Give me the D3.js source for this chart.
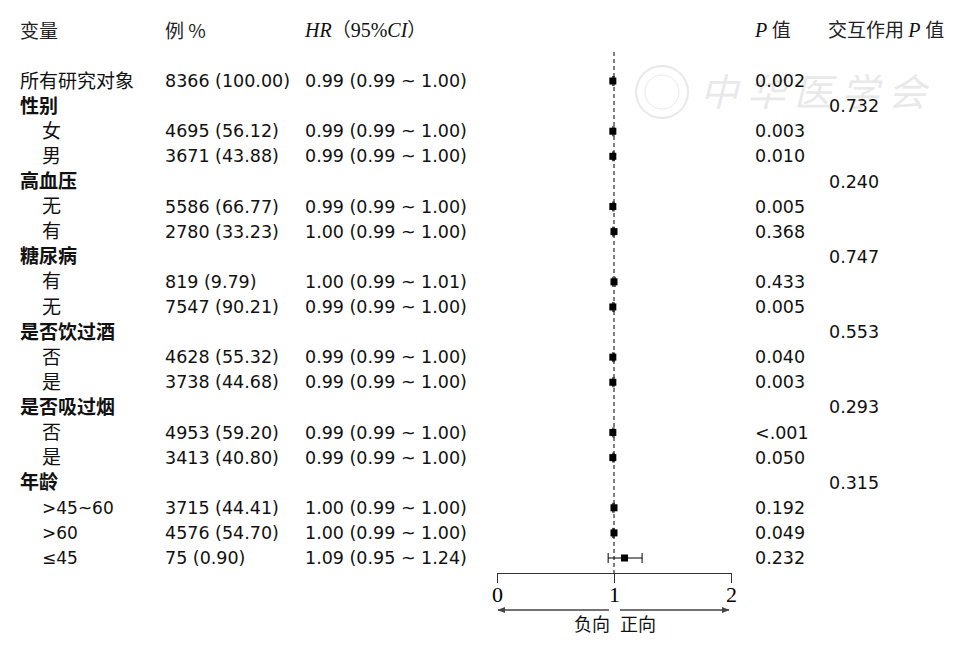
<!DOCTYPE html>
<html>
<head>
<meta charset="utf-8">
<script src="https://cdn.jsdelivr.net/npm/d3@7"></script>
<style>
  body { margin: 0; background: #fff; }
  text { fill: #111; }
  .cjk { font-family: "Noto Sans CJK SC", sans-serif; font-size: 19px; }
  .num { font-family: "DejaVu Sans", sans-serif; font-size: 17.5px; }
  .hdr { font-family: "Noto Sans CJK SC", sans-serif; font-size: 19px; fill: #222; }
  .it { font-family: "Liberation Serif", serif; font-style: italic; font-size: 20px; }
</style>
</head>
<body>
<div id="forest"></div>
<script>
// forest plot, subgroup analysis
var width = 967, height = 645;

// data
var labels = ["所有研究对象", "性别", "女", "男", "高血压", "无", "有", "糖尿病", "有", "无",
  "是否饮过酒", "否", "是", "是否吸过烟", "否", "是", "年龄", ">45~60", ">60", "≤45"];
// 0 = overall, 1 = group heading, 2 = subgroup
var levels = [0, 1, 2, 2, 1, 2, 2, 1, 2, 2, 1, 2, 2, 1, 2, 2, 1, 2, 2, 2];
var counts = ["8366 (100.00)", "", "4695 (56.12)", "3671 (43.88)", "", "5586 (66.77)", "2780 (33.23)", "",
  "819 (9.79)", "7547 (90.21)", "", "4628 (55.32)", "3738 (44.68)", "", "4953 (59.20)", "3413 (40.80)", "",
  "3715 (44.41)", "4576 (54.70)", "75 (0.90)"];
var hr    = [0.99, null, 0.99, 0.99, null, 0.99, 1.00, null, 1.00, 0.99, null, 0.99, 0.99, null, 0.99, 0.99, null, 1.00, 1.00, 1.09];
var hrLow = [0.99, null, 0.99, 0.99, null, 0.99, 0.99, null, 0.99, 0.99, null, 0.99, 0.99, null, 0.99, 0.99, null, 0.99, 0.99, 0.95];
var hrUp  = [1.00, null, 1.00, 1.00, null, 1.00, 1.00, null, 1.01, 1.00, null, 1.00, 1.00, null, 1.00, 1.00, null, 1.00, 1.00, 1.24];
var pValues = ["0.002", "", "0.003", "0.010", "", "0.005", "0.368", "", "0.433", "0.005", "", "0.040", "0.003", "",
  "<.001", "0.050", "", "0.192", "0.049", "0.232"];
var pInter = ["", "0.732", "", "", "0.240", "", "", "0.747", "", "", "0.553", "", "", "0.293", "", "", "0.315", "", "", ""];
var ticks = [0, 1, 2];

var rows = labels.map(function(d, i) {
  return { label: d, level: levels[i], n: counts[i], hr: hr[i], lo: hrLow[i], hi: hrUp[i], p: pValues[i], pi: pInter[i] };
});

var svg = d3.select("#forest").append("svg")
  .attr("width", width).attr("height", height);

var x = d3.scaleLinear().domain([0, 2]).range([497, 731]);
var y = d3.scaleLinear().domain([0, rows.length - 1]).range([81, 558]);
var axisY = 573;

function fmt(v) { return v.toFixed(2); }

// watermark (faint, behind everything)
var wm = svg.append("g").attr("opacity", 0.18);
wm.append("circle").attr("cx", 662).attr("cy", 92).attr("r", 26)
  .attr("fill", "none").attr("stroke", "#888").attr("stroke-width", 2);
wm.append("circle").attr("cx", 662).attr("cy", 92).attr("r", 17)
  .attr("fill", "none").attr("stroke", "#888").attr("stroke-width", 1);
wm.append("text").attr("x", 700).attr("y", 106)
  .style("font-family", "Noto Sans CJK SC").style("font-size", "38px").style("font-style", "italic")
  .style("letter-spacing", "9px").style("fill", "#888")
  .text("中华医学会");

// header
var hdrY = 31;
svg.append("text").attr("class", "hdr").attr("x", 20).attr("y", hdrY).attr("dy", "0.35em").text("变量");
svg.append("text").attr("class", "hdr").attr("x", 165).attr("y", hdrY).attr("dy", "0.35em").text("例 %");
var h = svg.append("text").attr("x", 305).attr("y", hdrY).attr("dy", "0.35em");
h.append("tspan").attr("class", "it").text("HR");
h.append("tspan").attr("class", "hdr").text("（");
h.append("tspan").attr("class", "it").style("font-style", "normal").text("95%");
h.append("tspan").attr("class", "it").text("CI");
h.append("tspan").attr("class", "hdr").text("）");
var p1 = svg.append("text").attr("x", 755).attr("y", hdrY).attr("dy", "0.35em");
p1.append("tspan").attr("class", "it").text("P ");
p1.append("tspan").attr("class", "hdr").text("值");
var p2 = svg.append("text").attr("x", 828).attr("y", hdrY).attr("dy", "0.35em");
p2.append("tspan").attr("class", "hdr").text("交互作用 ");
p2.append("tspan").attr("class", "it").text("P ");
p2.append("tspan").attr("class", "hdr").text("值");

// table rows
var row = svg.append("g").selectAll("g").data(rows).enter().append("g")
  .attr("transform", function(d, i) { return "translate(0," + y(i) + ")"; });

row.append("text")
  .attr("class", "cjk")
  .attr("x", function(d) { return d.level == 2 ? 42 : 20; })
  .attr("dy", "0.35em")
  .style("font-weight", function(d) { return d.level == 1 ? "bold" : "normal"; })
  .style("font-family", function(d) { return /^[<>≤]/.test(d.label) ? "DejaVu Sans" : null; })
  .style("font-size", function(d) { return /^[<>≤]/.test(d.label) ? "17px" : null; })
  .text(function(d) { return d.label; });

row.append("text").attr("class", "num").attr("x", 165).attr("dy", "0.35em")
  .text(function(d) { return d.n; });

row.append("text").attr("class", "num").attr("x", 305).attr("dy", "0.35em")
  .text(function(d) { return d.hr == null ? "" : fmt(d.hr) + " (" + fmt(d.lo) + " ~ " + fmt(d.hi) + ")"; });

row.append("text").attr("class", "num").attr("x", 755).attr("dy", "0.35em")
  .text(function(d) { return d.p; });

row.append("text").attr("class", "num").attr("x", 829).attr("dy", "0.35em")
  .text(function(d) { return d.pi; });

// reference line at HR = 1
svg.append("line")
  .attr("x1", x(1)).attr("x2", x(1)).attr("y1", 52).attr("y2", axisY)
  .attr("stroke", "#000").attr("stroke-width", 1).attr("stroke-dasharray", "4,3");

// CI and points
var est = row.filter(function(d) { return d.hr != null; });
est.append("line")
  .attr("x1", function(d) { return x(d.lo); }).attr("x2", function(d) { return x(d.hi); })
  .attr("stroke", "#000").attr("stroke-width", 1);
est.append("line")
  .attr("x1", function(d) { return x(d.lo); }).attr("x2", function(d) { return x(d.lo); })
  .attr("y1", -5).attr("y2", 5).attr("stroke", "#000").attr("stroke-width", 1);
est.append("line")
  .attr("x1", function(d) { return x(d.hi); }).attr("x2", function(d) { return x(d.hi); })
  .attr("y1", -5).attr("y2", 5).attr("stroke", "#000").attr("stroke-width", 1);
est.append("rect")
  .attr("x", function(d) { return x(d.hr) - 3.5; }).attr("y", -3.5)
  .attr("width", 7).attr("height", 7).attr("fill", "#000");

// x axis
var axis = svg.append("g").attr("transform", "translate(0," + axisY + ")")
  .call(d3.axisBottom(x).tickValues(ticks).tickSize(10).tickSizeOuter(0).tickFormat(d3.format("d")));
axis.select(".domain").attr("stroke", "#333");
axis.selectAll(".tick line").attr("stroke", "#333");
axis.selectAll(".tick text")
  .style("font-family", "Liberation Serif").style("font-size", "22px").style("fill", "#000");

// direction arrows
svg.append("defs").append("marker")
  .attr("id", "arr").attr("viewBox", "0 0 10 10").attr("refX", 9).attr("refY", 5)
  .attr("markerWidth", 6).attr("markerHeight", 6).attr("orient", "auto-start-reverse")
  .append("path").attr("d", "M0,1L10,5L0,9z").attr("fill", "#444");
svg.append("line").attr("x1", x(1) - 5).attr("x2", x(0) + 1).attr("y1", 610).attr("y2", 610)
  .attr("stroke", "#444").attr("stroke-width", 1.3).attr("marker-end", "url(#arr)");
svg.append("line").attr("x1", x(1) + 6).attr("x2", x(2) - 2).attr("y1", 610).attr("y2", 610)
  .attr("stroke", "#444").attr("stroke-width", 1.3).attr("marker-end", "url(#arr)");
svg.append("text").attr("class", "cjk").attr("x", x(1) - 4).attr("y", 625).attr("dy", "0.35em")
  .attr("text-anchor", "end").style("font-size", "18px").text("负向");
svg.append("text").attr("class", "cjk").attr("x", x(1) + 6).attr("y", 625).attr("dy", "0.35em")
  .style("font-size", "18px").text("正向");
</script>
</body>
</html>
